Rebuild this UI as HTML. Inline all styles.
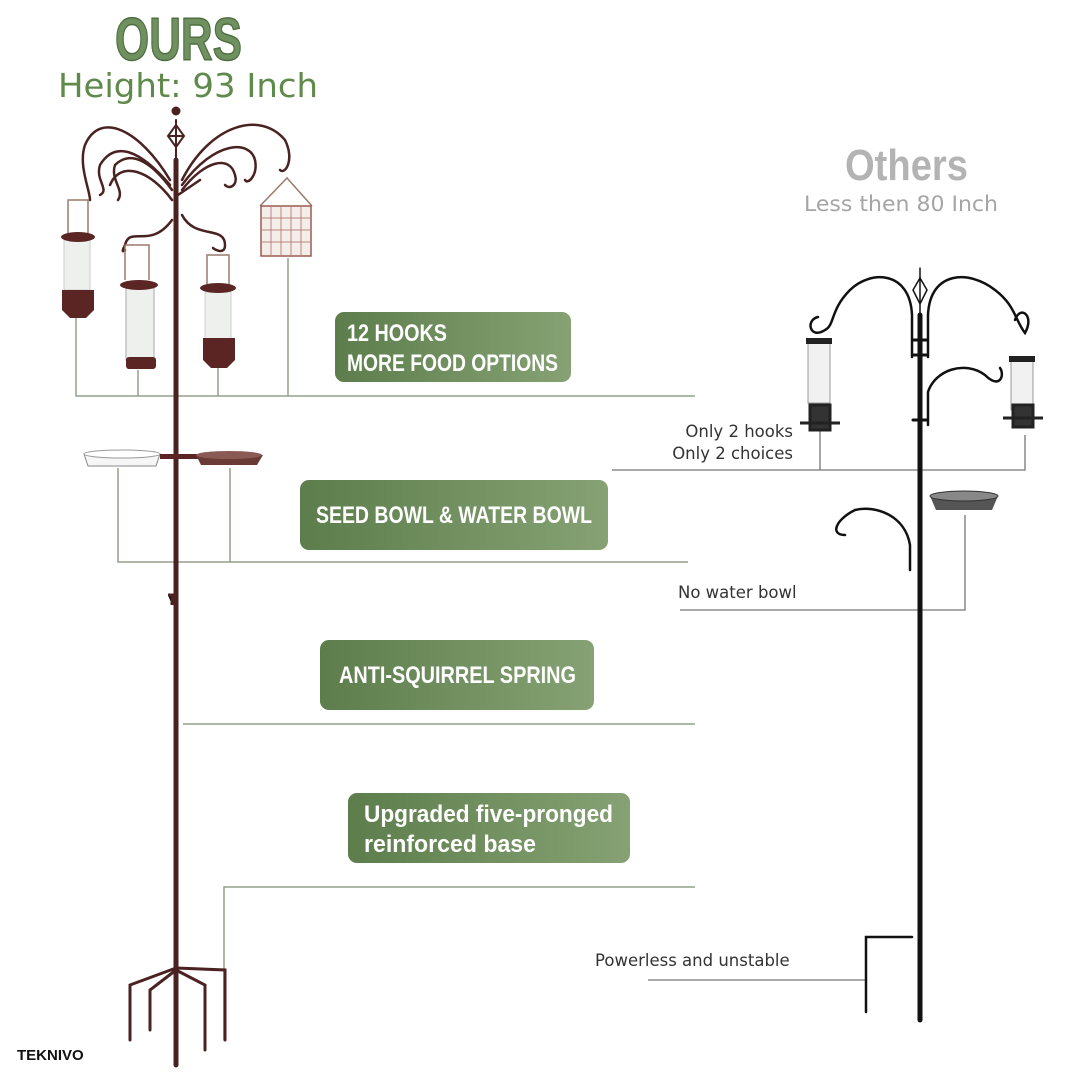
<!DOCTYPE html>
<html><head><meta charset="utf-8"><style>
body{margin:0;background:#fff}
svg{display:block}
.bx{font-family:"Liberation Sans",sans-serif;font-weight:bold;fill:#fff;font-size:24px}
.sm{font-family:"DejaVu Sans","Liberation Sans",sans-serif;font-size:16.5px;fill:#333}
</style></head><body>
<svg width="1080" height="1080" viewBox="0 0 1080 1080" xmlns="http://www.w3.org/2000/svg">
<defs>
<linearGradient id="g" x1="0" y1="0" x2="1" y2="0"><stop offset="0" stop-color="#5d7d4c"/><stop offset="1" stop-color="#86a274"/></linearGradient>
</defs>
<!-- titles -->
<text x="115" y="60" textLength="127" lengthAdjust="spacingAndGlyphs" font-family="Liberation Sans,sans-serif" font-weight="bold" font-size="60" fill="#6f9160" stroke="#4f6e40" stroke-width="1.5">OURS</text>
<text x="58" y="97" textLength="260" lengthAdjust="spacingAndGlyphs" font-family="DejaVu Sans,Liberation Sans,sans-serif" font-size="33" fill="#5f8a4c">Height: 93 Inch</text>
<text x="845" y="180" textLength="123" lengthAdjust="spacingAndGlyphs" font-family="Liberation Sans,sans-serif" font-weight="bold" font-size="44" fill="#b3b3b3">Others</text>
<text x="804" y="211" textLength="194" lengthAdjust="spacingAndGlyphs" font-family="DejaVu Sans,Liberation Sans,sans-serif" font-size="21" fill="#a5a5a5">Less then 80 Inch</text>

<!-- connector lines left -->
<g stroke="#94a088" stroke-width="1.5" fill="none">
<path d="M76 318V396H695M138 370V396M218 368V396M288 258V396"/>
<path d="M118 468V562H688M230 468V562"/>
<path d="M183 724H695"/>
<path d="M224 1040V887H695"/>
</g>
<!-- connector lines right -->
<g stroke="#777" stroke-width="1.3" fill="none">
<path d="M612 470H1025V435M820 430V470"/>
<path d="M680 610H965V515"/>
<path d="M648 980H866"/>
</g>

<!-- green boxes -->
<rect x="335" y="312" width="236" height="70" rx="9" fill="url(#g)"/>
<text class="bx" x="347" y="341" textLength="100" lengthAdjust="spacingAndGlyphs">12 HOOKS</text>
<text class="bx" x="347" y="371" textLength="211" lengthAdjust="spacingAndGlyphs">MORE FOOD OPTIONS</text>
<rect x="300" y="480" width="308" height="70" rx="9" fill="url(#g)"/>
<text class="bx" x="316" y="523" textLength="276" lengthAdjust="spacingAndGlyphs">SEED BOWL &amp; WATER BOWL</text>
<rect x="320" y="640" width="274" height="70" rx="9" fill="url(#g)"/>
<text class="bx" x="339" y="683" textLength="237" lengthAdjust="spacingAndGlyphs">ANTI-SQUIRREL SPRING</text>
<rect x="348" y="793" width="282" height="70" rx="9" fill="url(#g)"/>
<text class="bx" x="364" y="822" textLength="249" lengthAdjust="spacingAndGlyphs">Upgraded five-pronged</text>
<text class="bx" x="364" y="852" textLength="172" lengthAdjust="spacingAndGlyphs">reinforced base</text>

<!-- small texts -->
<text class="sm" x="793" y="437" text-anchor="end">Only 2 hooks</text>
<text class="sm" x="793" y="459" text-anchor="end">Only 2 choices</text>
<text class="sm" x="678" y="598">No water bowl</text>
<text class="sm" x="595" y="966">Powerless and unstable</text>
<text x="17" y="1060" font-family="Liberation Sans,sans-serif" font-weight="bold" font-size="15" fill="#111">TEKNIVO</text>

<!-- LEFT POLE -->
<g stroke="#4a2222" fill="none" stroke-linecap="round">
<path d="M176 160V1065" stroke-width="5"/>
<path d="M176 120V160" stroke-width="2"/>
<circle cx="176" cy="111" r="4" fill="#4a2222"/>
<path d="M176 125l-8 11 8 11 8-11z M168 136h16" stroke-width="2"/>
<g stroke-width="2.5">
<path d="M170 180C140 130 100 110 85 145C78 165 90 190 90 200"/>
<path d="M170 185C140 150 115 140 100 165C95 180 110 190 100 195"/>
<path d="M172 190C150 160 130 150 115 165C110 180 125 190 118 200"/>
<path d="M172 200C150 170 120 160 110 185"/>
<path d="M172 220C150 250 130 225 125 245C120 255 125 250 125 250"/>
<path d="M182 180C210 125 260 110 285 140C295 160 285 175 280 170"/>
<path d="M182 185C215 140 250 140 255 160C258 175 248 185 245 180"/>
<path d="M182 190C205 160 230 155 235 175C238 185 230 190 225 185"/>
<path d="M182 215C195 240 225 225 225 245C225 255 215 250 213 248"/>
<path d="M178 195L200 180"/>
</g>
<path d="M176 968L130 985V1040M176 970L150 990V1030M176 970L205 985V1050M176 968L225 970V1040M176 975V1050" stroke-width="3"/>
</g>
<!-- feeders left -->
<g>
<path d="M68 235V200h20v35" stroke="#9b7a6b" fill="none" stroke-width="1.5"/>
<rect x="64" y="240" width="26" height="50" fill="#eef0ee" stroke="#ccc"/>
<ellipse cx="78" cy="237" rx="17" ry="5" fill="#5a2523"/>
<path d="M62 290h32v20l-8 8h-16l-8-8z" fill="#5a2523"/>
<path d="M125 280V245h24v35" stroke="#9b7a6b" fill="none" stroke-width="1.5"/>
<rect x="126" y="288" width="28" height="72" fill="#eef0ee" stroke="#aaa"/>
<ellipse cx="139" cy="285" rx="19" ry="5" fill="#5a2523"/>
<rect x="126" y="357" width="30" height="12" rx="3" fill="#5a2523"/>
<path d="M207 285V255h22v30" stroke="#9b7a6b" fill="none" stroke-width="1.5"/>
<rect x="205" y="292" width="26" height="50" fill="#eef0ee" stroke="#ccc"/>
<ellipse cx="218" cy="288" rx="18" ry="5" fill="#5a2523"/>
<path d="M203 338h32v22l-8 8h-16l-8-8z" fill="#5a2523"/>
<path d="M260 206L287 178L312 206" stroke="#9b7a6b" fill="none" stroke-width="1.5"/>
<rect x="261" y="206" width="50" height="50" fill="#f4eeea" stroke="#9b5a50" stroke-width="1.5"/>
<path d="M261 218h50M261 230h50M261 242h50M271 206v50M281 206v50M291 206v50M301 206v50" stroke="#b7867c" stroke-width="1"/>
<path d="M84 454h76l-4 12h-68z" fill="#f6f6f6" stroke="#888"/>
<ellipse cx="122" cy="454" rx="38" ry="4" fill="#fff" stroke="#999"/>
<rect x="160" y="454" width="40" height="5" fill="#5a2523"/>
<path d="M196 455h67l-6 10h-56z" fill="#6a3a36"/>
<ellipse cx="229" cy="455" rx="33" ry="4" fill="#8a5a55"/>
<path d="M168 595h4v10" stroke="#4a2222" stroke-width="3"/>
</g>

<!-- RIGHT POLE -->
<g stroke="#111" fill="none" stroke-linecap="round">
<path d="M920 315V1020" stroke-width="5"/>
<path d="M920 268V315" stroke-width="1.5"/>
<path d="M920 278l-7 12 7 14 7-14z" stroke-width="1.5"/>
<g stroke-width="2.5">
<path d="M912 357V315C910 270 870 270 850 290C830 310 835 325 825 330C810 340 805 320 818 317"/>
<path d="M928 357V315C930 270 970 270 995 290C1015 305 1015 320 1025 333C1035 315 1020 305 1015 320"/>
<path d="M928 425V392C935 370 965 360 985 375C1000 390 1005 375 1000 368"/>
<path d="M910 570V545C905 515 875 505 855 510C835 520 830 535 845 535"/>
</g>
<path d="M866 1012V937H912" stroke-width="2.5"/>
<path d="M913 340h14M913 355h14M913 420h14" stroke-width="3"/>
</g>
<rect x="808" y="343" width="22" height="60" fill="#f1f1f1" stroke="#999"/>
<rect x="806" y="338" width="26" height="6" fill="#222"/>
<path d="M800 423h40M810 405h20v25h-20z" stroke="#222" stroke-width="3" fill="#333"/>
<rect x="1011" y="360" width="22" height="50" fill="#f1f1f1" stroke="#999"/>
<rect x="1009" y="356" width="26" height="6" fill="#222"/>
<path d="M1003 418h40M1013 405h20v22h-20z" stroke="#222" stroke-width="3" fill="#333"/>
<path d="M930 496h68l-6 14h-56z" fill="#555"/>
<ellipse cx="964" cy="496" rx="34" ry="5" fill="#888" stroke="#333"/>
</svg>
</body></html>
